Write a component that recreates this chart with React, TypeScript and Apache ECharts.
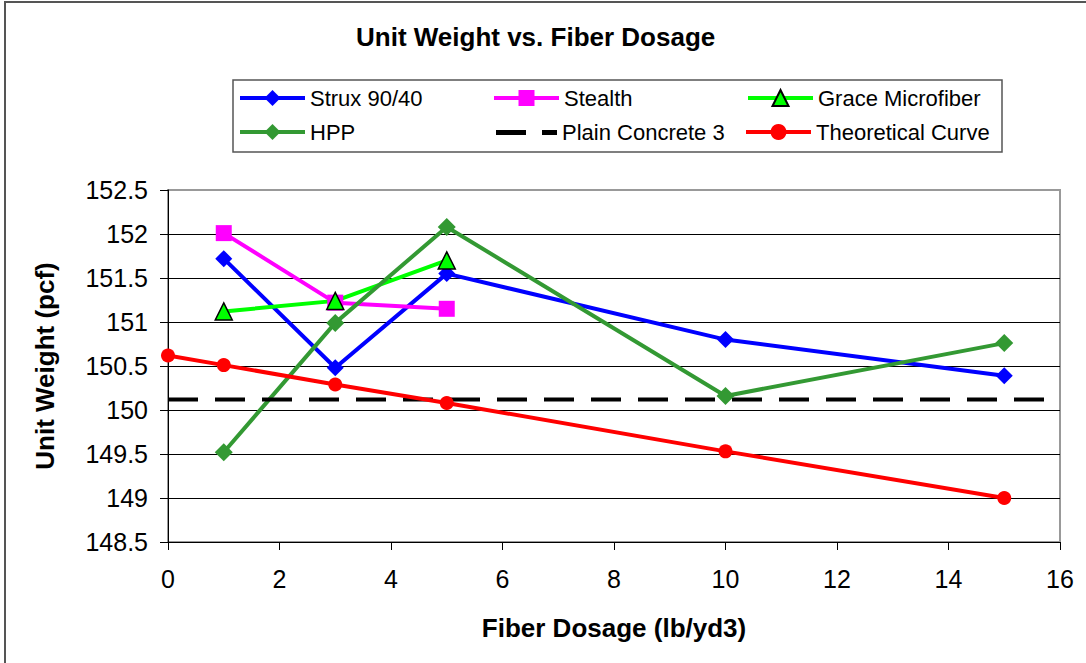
import React, { useEffect, useRef } from "react";
import * as echarts from "echarts";

const xTicks = { min: 0, max: 16, interval: 2 };
const yTicks = { min: 148.5, max: 152.5, interval: 0.5 };

const seriesNames = [
  "Strux 90/40",
  "Stealth",
  "Grace Microfiber",
  "HPP",
  "Plain Concrete 3",
  "Theoretical Curve",
];

const struxData: [number, number][] = [
  [1, 151.72],
  [3, 150.48],
  [5, 151.55],
  [10, 150.8],
  [15, 150.39],
];
const stealthData: [number, number][] = [
  [1, 152.01],
  [3, 151.22],
  [5, 151.15],
];
const graceData: [number, number][] = [
  [1, 151.12],
  [3, 151.24],
  [5, 151.7],
];
const hppData: [number, number][] = [
  [1, 149.52],
  [3, 150.99],
  [5, 152.08],
  [10, 150.16],
  [15, 150.76],
];
const plainData: [number, number][] = [
  [0, 150.12],
  [16, 150.12],
];
const theoreticalData: [number, number][] = [
  [0, 150.62],
  [1, 150.51],
  [3, 150.29],
  [5, 150.08],
  [10, 149.53],
  [15, 149.0],
];

const FONT = "'Liberation Sans', Arial, sans-serif";
const DASH_ICON =
  "path://M0,0h0.1v0.1h-0.1z M4,8h30v5h-30z M50,8h15v5h-15z M64.9,19.9h0.1v0.1h-0.1z";

export default function App() {
  const ref = useRef<HTMLDivElement>(null);
  useEffect(() => {
    if (!ref.current) return;
    const chart = echarts.init(ref.current, undefined, { renderer: "svg" });
    const splitColors = [
      "#000", "#000", "#000", "#000", "#000", "#000", "#000", "#000", "#999",
    ];
    chart.setOption({
      animation: false,
      backgroundColor: "#fff",
      textStyle: { fontFamily: FONT },
      title: {
        text: "Unit Weight vs. Fiber Dosage",
        left: 356,
        top: 24,
        padding: 0,
        textStyle: { fontFamily: FONT, fontSize: 26, fontWeight: "bold", color: "#000" },
      },
      graphic: [
        {
          type: "rect",
          shape: { x: 5, y: 2, width: 1200, height: 800 },
          style: { fill: "none", stroke: "#555", lineWidth: 2 },
          silent: true,
          z: 100,
        },
      ],
      legend: {
        left: 233,
        top: 80,
        width: 764,
        orient: "horizontal",
        padding: [4, 8, 6, 5],
        itemGap: 6,
        itemWidth: 65,
        itemHeight: 20,
        borderColor: "#555",
        borderWidth: 1.5,
        lineStyle: { width: 4 },
        data: seriesNames.map((name) =>
          name === "Plain Concrete 3"
            ? { name, icon: DASH_ICON, itemStyle: { color: "#000" } }
            : { name }
        ),
        textStyle: {
          fontFamily: FONT,
          fontSize: 22,
          color: "#000",
          width: 176,
          lineHeight: 28,
        },
      },
      grid: {
        left: 168,
        top: 190,
        right: 26,
        bottom: 121,
        show: true,
        borderColor: "#999",
        borderWidth: 2,
      },
      xAxis: {
        type: "value",
        min: xTicks.min,
        max: xTicks.max,
        interval: xTicks.interval,
        name: "Fiber Dosage (lb/yd3)",
        nameLocation: "middle",
        nameGap: 73,
        nameTextStyle: { fontFamily: FONT, fontSize: 26, fontWeight: "bold", color: "#000" },
        axisLine: { show: true, onZero: false, lineStyle: { color: "#000", width: 1 } },
        axisTick: { show: true, inside: false, length: 8, lineStyle: { color: "#000" } },
        axisLabel: { fontFamily: FONT, fontSize: 25, color: "#000", margin: 24 },
        splitLine: { show: false },
      },
      yAxis: {
        type: "value",
        min: yTicks.min,
        max: yTicks.max,
        interval: yTicks.interval,
        name: "Unit Weight (pcf)",
        nameLocation: "middle",
        nameGap: 110,
        nameTextStyle: { fontFamily: FONT, fontSize: 26, fontWeight: "bold", color: "#000" },
        axisLine: { show: true, lineStyle: { color: "#000", width: 1 } },
        axisTick: { show: true, inside: false, length: 8, lineStyle: { color: "#000" } },
        axisLabel: { fontFamily: FONT, fontSize: 25, color: "#000", margin: 20 },
        splitLine: { show: true, lineStyle: { color: splitColors, width: 1 } },
      },
      series: [
        {
          name: seriesNames[0],
          type: "line",
          data: struxData,
          color: "#0000FF",
          symbol: "diamond",
          symbolSize: 17,
          lineStyle: { width: 4, color: "#0000FF" },
          itemStyle: { color: "#0000FF" },
        },
        {
          name: seriesNames[1],
          type: "line",
          data: stealthData,
          color: "#FF00FF",
          symbol: "rect",
          symbolSize: 16,
          lineStyle: { width: 4, color: "#FF00FF" },
          itemStyle: { color: "#FF00FF" },
        },
        {
          name: seriesNames[2],
          type: "line",
          data: graceData,
          color: "#00FF00",
          symbol: "triangle",
          symbolSize: 17,
          lineStyle: { width: 4, color: "#00FF00" },
          itemStyle: { color: "#00FF00", borderColor: "#000", borderWidth: 1.5 },
        },
        {
          name: seriesNames[3],
          type: "line",
          data: hppData,
          color: "#339933",
          symbol: "diamond",
          symbolSize: 18,
          lineStyle: { width: 4, color: "#339933" },
          itemStyle: { color: "#339933" },
        },
        {
          name: seriesNames[4],
          type: "line",
          data: plainData,
          color: "#000",
          symbol: "none",
          showSymbol: false,
          lineStyle: { width: 4, color: "#000", type: [30, 17] },
        },
        {
          name: seriesNames[5],
          type: "line",
          data: theoreticalData,
          color: "#FF0000",
          symbol: "circle",
          symbolSize: 14,
          lineStyle: { width: 4, color: "#FF0000" },
          itemStyle: { color: "#FF0000" },
        },
      ],
    });
    return () => chart.dispose();
  }, []);
  return (
    <div
      ref={ref}
      style={{ position: "absolute", left: 0, top: 0, width: 1086, height: 663 }}
    />
  );
}
